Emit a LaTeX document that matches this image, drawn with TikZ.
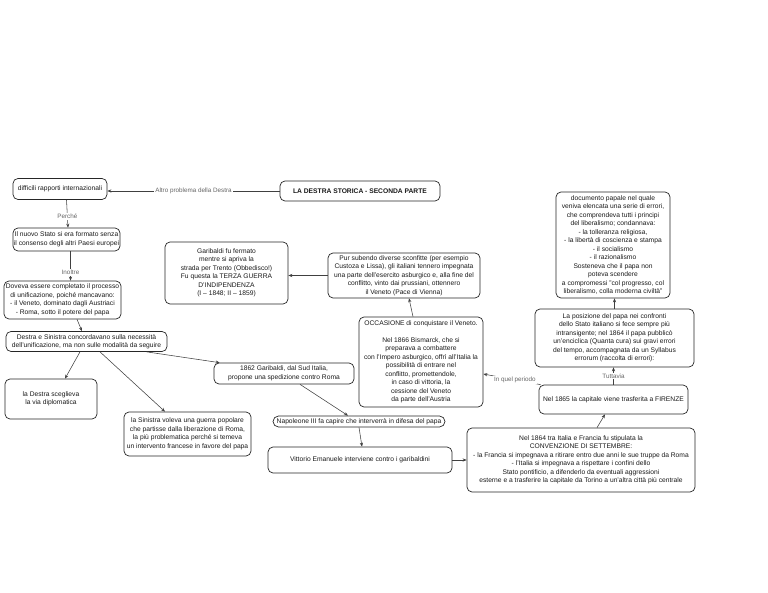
\documentclass[tikz,border=0pt]{standalone}
\usepackage{fontspec}
\setmainfont{Liberation Sans}
\usetikzlibrary{arrows.meta,calc}
\newcommand{\bfs}{\fontsize{6.7}{8.5}\selectfont}
\newcommand{\lfs}{\fontsize{6.3}{7.5}\selectfont}
\tikzset{
  box/.style={draw=black!85, line width=0.7pt, rounded corners=5pt, align=center,
    font=\bfs, text=black!90, inner sep=1pt},
  conn/.style={draw=black!75, line width=0.55pt, -{Stealth[length=4pt,width=3.2pt]}},
  lbl/.style={fill=white, font=\lfs, text=black!60, inner sep=1pt}
}
\begin{document}
\begin{tikzpicture}[x=1pt,y=-1pt]
\useasboundingbox (0,0) rectangle (768,593);
% nodes
\node[box, minimum width=94pt, minimum height=21pt] (difficili) at (60,189) {difficili rapporti internazionali};
\node[box, minimum width=160pt, minimum height=20pt, font=\bfs\bfseries] (title) at (360,191) {LA DESTRA STORICA - SECONDA PARTE};
\node[box, minimum width=107pt, minimum height=23pt] (nuovo) at (66.5,239.5) {Il nuovo Stato si era formato senza\\il consenso degli altri Paesi europei};
\node[box, minimum width=117pt, minimum height=38pt] (doveva) at (62.5,300) {Doveva essere completato il processo\\di unificazione, poiché mancavano:\\- il Veneto, dominato dagli Austriaci\\- Roma, sotto il potere del papa};
\node[box, minimum width=161pt, minimum height=20pt] (destrasin) at (86.5,341.5) {Destra e Sinistra concordavano sulla necessità\\dell'unificazione, ma non sulle modalità da seguire};
\node[box, minimum width=92pt, minimum height=40pt] (diplom) at (51,399) {la Destra sceglieva\\la via diplomatica};
\node[box, minimum width=127pt, minimum height=44pt] (sinistra) at (187.5,434) {la Sinistra voleva una guerra popolare\\che partisse dalla liberazione di Roma,\\la più problematica perché si temeva\\un intervento francese in favore del papa};
\node[box, minimum width=123pt, minimum height=62pt] (garibaldi) at (226.5,273) {Garibaldi fu fermato\\mentre si apriva la\\strada per Trento (Obbedisco!)\\Fu questa la TERZA GUERRA\\D'INDIPENDENZA\\(I – 1848; II – 1859)};
\node[box, minimum width=152pt, minimum height=45pt] (pur) at (404,275.5) {Pur subendo diverse sconfitte (per esempio\\Custoza e Lissa), gli italiani tennero impegnata\\una parte dell'esercito asburgico e, alla fine del\\conflitto, vinto dai prussiani, ottennero\\il Veneto (Pace di Vienna)};
\node[box, minimum width=140pt, minimum height=21pt] (g1862) at (284,373.5) {1862 Garibaldi, dal Sud Italia,\\propone una spedizione contro Roma};
\node[box, minimum width=124pt, minimum height=90pt] (occasione) at (421,362) {OCCASIONE di conquistare il Veneto.\\[8.5pt]Nel 1866 Bismarck, che si\\preparava a combattere\\con l'Impero asburgico, offrì all'Italia la\\possibilità di entrare nel\\conflitto, promettendole,\\in caso di vittoria, la\\cessione del Veneto\\da parte dell'Austria};
\node[box, minimum width=172pt, minimum height=11pt, rounded corners=5.5pt, inner sep=0.5pt] (napoleone) at (359,421.5) {Napoleone III fa capire che interverrà in difesa del papa};
\node[box, minimum width=184pt, minimum height=26pt] (vittorio) at (360,460) {Vittorio Emanuele interviene contro i garibaldini};
\node[box, minimum width=228pt, minimum height=64pt] (convenzione) at (581,460) {Nel 1864 tra Italia e Francia fu stipulata la\\CONVENZIONE DI SETTEMBRE:\\- la Francia si impegnava a ritirare entro due anni le sue truppe da Roma\\- l'Italia si impegnava a rispettare i confini dello\\Stato pontificio, a difenderlo da eventuali aggressioni\\esterne e a trasferire la capitale da Torino a un'altra città più centrale};
\node[box, minimum width=149pt, minimum height=29pt] (nel1865) at (613.5,399.5) {Nel 1865 la capitale viene trasferita a FIRENZE};
\node[box, minimum width=159pt, minimum height=58pt] (posizione) at (614.5,338) {La posizione del papa nei confronti\\dello Stato italiano si fece sempre più\\intransigente; nel 1864 il papa pubblicò\\un'enciclica (Quanta cura) sui gravi errori\\del tempo, accompagnata da un Syllabus\\errorum (raccolta di errori):};
\node[box, minimum width=114pt, minimum height=106pt] (documento) at (613,245) {documento papale nel quale\\veniva elencata una serie di errori,\\che comprendeva tutti i principi\\del liberalismo; condannava:\\- la tolleranza religiosa,\\- la libertà di coscienza e stampa\\- il socialismo\\- il razionalismo\\Sosteneva che il papa non\\poteva scendere\\a compromessi "col progresso, col\\liberalismo, colla moderna civiltà"};
% connectors
\draw[conn] (title.west) -- node[lbl]{Altro problema della Destra} (difficili.east |- title.west);
\draw[conn] ([xshift=6.5pt]difficili.south) -- node[lbl,pos=0.6]{Perché} ([xshift=1.5pt]nuovo.north);
\draw[conn] ([xshift=4pt]nuovo.south) -- node[lbl,pos=0.72]{Inoltre} ([xshift=8pt]doveva.north);
\draw[conn] ([xshift=14.5pt]doveva.south) -- ([xshift=-4.5pt]destrasin.north);
\draw[conn] ([xshift=-6.5pt]destrasin.south) -- ([xshift=14pt]diplom.north);
\draw[conn] ([xshift=13.5pt]destrasin.south) -- ([xshift=-22.5pt]sinistra.north);
\draw[conn] ([xshift=60pt]destrasin.south) -- ([xshift=6pt]g1862.north west);
\draw[conn] ([xshift=16pt]g1862.south) -- ([xshift=-11pt]napoleone.north);
\draw[conn] (napoleone.south) -- ([xshift=2pt]vittorio.north);
\draw[conn] (vittorio.east) -- (convenzione.west);
\draw[conn] ([xshift=16pt]convenzione.north) -- ([xshift=-8.5pt]nel1865.south);
\draw[conn] (nel1865.north) -- node[lbl]{Tuttavia} (nel1865.north |- posizione.south);
\draw[conn] (posizione.north) -- (posizione.north |- documento.south);
\draw[conn] ([xshift=2pt]nel1865.north west) -- node[lbl,pos=0.45]{In quel periodo} ([yshift=-12pt]occasione.east);
\draw[conn] ([xshift=-8pt]occasione.north) -- ([xshift=5pt]pur.south);
\draw[conn] (pur.west) -- (garibaldi.east |- pur.west);
\end{tikzpicture}
\end{document}
